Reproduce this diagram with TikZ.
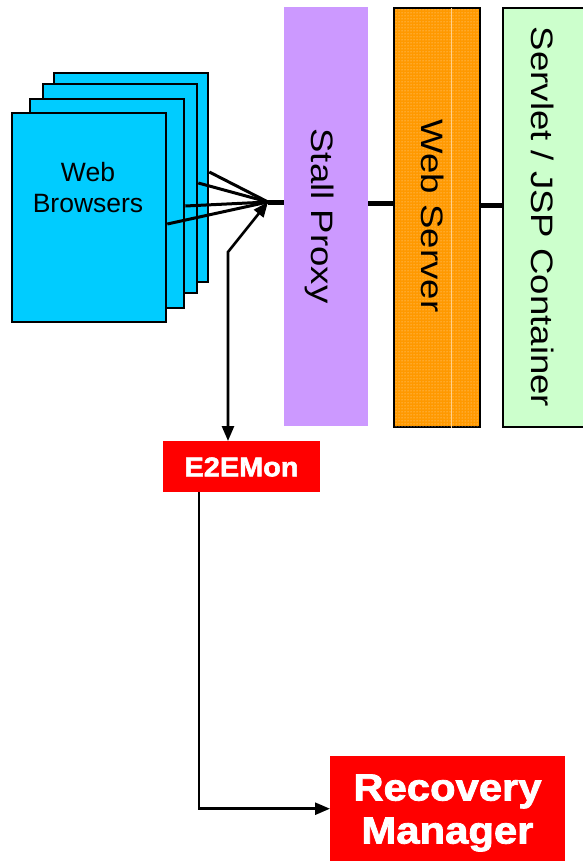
\documentclass[tikz,border=0pt]{standalone}
\usepackage{fontspec}
\setmainfont{Liberation Sans}
\newfontfamily\heavyfont[FakeBold=2]{Liberation Sans Bold}
\usetikzlibrary{arrows.meta,patterns}

\definecolor{browsercyan}{HTML}{00CCFF}
\definecolor{proxylilac}{HTML}{CC99FF}
\definecolor{serverorange}{HTML}{FF9900}
\definecolor{servletgreen}{HTML}{CCFFCC}
\definecolor{alarmred}{HTML}{FF0000}

\tikzset{
  page/.style={draw=black, line width=2.3pt, fill=browsercyan, anchor=north west,
    minimum width=154pt, minimum height=209pt, inner sep=0pt},
  tier/.style={anchor=north west, inner sep=0pt, minimum height=419pt},
  tierlabel/.style={rotate=-90, inner sep=0pt, font=\fontsize{31}{36}\selectfont},
  redbox/.style={fill=alarmred, anchor=north west, inner sep=0pt},
  redtext/.style={text=white, inner sep=0pt, align=center},
  fan/.style={line width=3pt},
  bus/.style={line width=5pt},
  signal/.style={line width=2.6pt, -{Triangle[length=15pt,width=12pt]}},
}

\begin{document}
\begin{tikzpicture}[x=1pt,y=-1pt]
\useasboundingbox (0,0) rectangle (583,862);

% stack of browser windows
\node[page] (b4) at (53,72) {};
\node[page] (b3) at (42,83) {};
\node[page] (b2) at (29,98) {};
\node[page] (b1) at (11,112) {};
\node[align=center, font=\fontsize{26.5}{31}\selectfont] (btext) at (88,188) {Web\\Browsers};

% server tiers
\node[tier, fill=proxylilac, minimum width=84pt] (proxy) at (284,7) {};
\node[tier, fill=serverorange, draw=black, line width=1.6pt, minimum width=86pt] (web) at (393,7) {};
\fill[pattern=dots, pattern color=white!70!serverorange]
  ([xshift=1pt,yshift=-1pt]web.north west) rectangle ([xshift=-1pt,yshift=1pt]web.south east);
\coordinate (seam) at (451,8);
\draw[white!55!serverorange, line width=0.8pt] (seam) -- (seam |- web.south);
\node[tier, fill=servletgreen, draw=black, line width=1.6pt, minimum width=100pt] (servlet) at (502,7) {};

\node[tierlabel] (ptext) at (320,216) {\scalebox{1.18}[1]{Stall Proxy}};
\node[tierlabel] (wtext) at (433,216) {\scalebox{1.18}[1]{Web Server}};
\node[tierlabel] (stext) at (543,217) {\scalebox{1.18}[1]{Servlet / JSP Container}};

% monitors
\node[redbox, minimum width=157pt, minimum height=51pt] (mon) at (163,441) {};
\node[redtext, font=\fontsize{27}{30}\heavyfont] (montext) at (241.5,467)
  {\scalebox{1.07}[1]{E2EMon}};
\node[redbox, minimum width=235pt, minimum height=105pt] (rec) at (330,756) {};
\node[redtext, font=\fontsize{38}{43}\heavyfont] (rectext) at (447.5,813)
  {\scalebox{1.1}[1]{Recovery}\\\scalebox{1.1}[1]{Manager}};

% request fan-in towards the proxy
\coordinate (hub) at (268,202);
\draw[fan] (b4.north east) ++(0,100) -- (hub);
\draw[fan] (b3.north east) ++(0,100) -- (hub);
\draw[fan] (b2.north east) ++(0,108) -- (hub);
\draw[fan] (b1.north east) ++(0,112) -- (hub);

% thick links between tiers
\draw[bus] (hub) -- (hub -| proxy.west);
\coordinate (link2) at (0,203);
\draw[bus] (link2 -| proxy.east) -- (link2 -| web.west);
\coordinate (link3) at (0,205);
\draw[bus] (link3 -| web.east) -- (link3 -| servlet.west);

% monitoring connections
\coordinate (bend) at (228,252);
\draw[signal, {Triangle[length=15pt,width=12pt]}-{Triangle[length=15pt,width=12pt]}]
  (mon.north -| bend) -- (bend) -- (hub);
\coordinate (drop) at (199,0);
\draw[signal] (mon.south -| drop) |- (rec.west);
\end{tikzpicture}
\end{document}
